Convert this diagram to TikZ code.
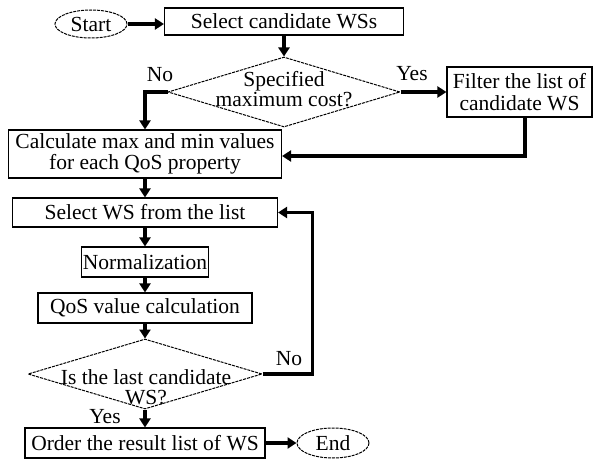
\documentclass[tikz,border=0pt]{standalone}
\usepackage{fontspec}
\setmainfont{Liberation Serif}
\newfontfamily\tnr{Liberation Serif}
\usetikzlibrary{arrows.meta,shapes.geometric}
\begin{document}
\begin{tikzpicture}[x=1pt,y=-1pt,
  every node/.style={font=\tnr\fontsize{21.5}{21.5}\selectfont},
  box/.style={draw,line width=1.1pt,inner sep=0pt,align=center},
  term/.style={draw,ellipse,dash pattern=on 3pt off 1pt,line width=1pt,inner sep=0pt},
  dec/.style={draw,diamond,dash pattern=on 3pt off 1pt,line width=1pt,inner sep=0pt},
  flow/.style={line width=3.2pt,-{Triangle[length=9pt,width=11pt]}},
  lbl/.style={inner sep=0pt,align=center}]
\useasboundingbox (0,0) rectangle (595,460);
\node[term,minimum width=72pt,minimum height=28pt] (start) at (91,24) {Start};
\node[box,minimum width=239pt,minimum height=27pt] (sel) at (284,21.5) {Select candidate WSs};
\node[dec,minimum width=232pt,minimum height=70pt] (d1) at (284,92) {};
\node[lbl,font=\tnr\fontsize{21.5}{17}\selectfont] (d1t) at (284,89) {Specified\\maximum cost?};
\node[box,minimum width=145pt,minimum height=50pt] (filt) at (519.5,92) {Filter the list of\\candidate WS};
\node[box,minimum width=273pt,minimum height=48pt] (calc) at (145,154) {Calculate max and min values\\for each QoS property};
\node[box,minimum width=265pt,minimum height=29pt] (sw) at (145,212.5) {Select WS from the list};
\node[box,minimum width=127pt,minimum height=30pt] (norm) at (145,262) {Normalization};
\node[box,minimum width=214pt,minimum height=30pt] (qos) at (145,308) {QoS value calculation};
\node[dec,minimum width=234pt,minimum height=70pt] (d2) at (145,374) {};
\node[lbl,font=\tnr\fontsize{21.5}{20}\selectfont] (d2t) at (146,387) {Is the last candidate\\WS?};
\node[box,minimum width=240pt,minimum height=30pt] (ord) at (145,443) {Order the result list of WS};
\node[term,minimum width=72pt,minimum height=30pt] (end) at (333,443) {End};
\node[lbl] (no1) at (160,75) {No};
\node[lbl] (yes1) at (412,74) {Yes};
\node[lbl] (no2) at (289,359) {No};
\node[lbl] (yes2) at (105,417) {Yes};
\draw[flow] (start.east) -- (start.east -| sel.west);
\draw[flow] (sel.south) -- (d1.north);
\draw[flow] (d1.east) -- (filt.west);
\draw[flow] (d1.west) -| (calc.north);
\draw[flow] ([xshift=5.5pt]filt.south) |- ([yshift=-2pt]calc.east);
\draw[flow] (calc.south) -- (sw.north);
\draw[flow] (sw.south) -- (norm.north);
\draw[flow] (norm.south) -- (qos.north);
\draw[flow] (qos.south) -- (d2.north);
\draw[flow] (d2.east) -- ++(50,0) |- (sw.east);
\draw[flow] (d2.south) -- (ord.north);
\draw[flow] (ord.east) -- (end.west);
\end{tikzpicture}
\end{document}
